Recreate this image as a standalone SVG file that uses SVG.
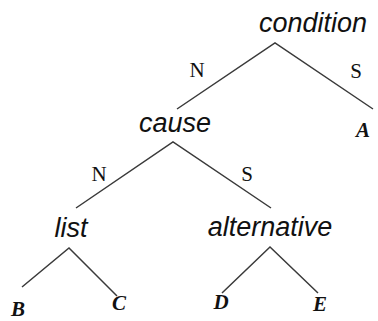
<svg xmlns="http://www.w3.org/2000/svg" width="378" height="321" viewBox="0 0 378 321">
<style>
.rel{font-family:"Liberation Sans",Arial,sans-serif;font-style:italic;font-size:27px;fill:#111;text-anchor:middle}
.lab{font-family:"Liberation Serif","Times New Roman",serif;font-size:21px;fill:#111;text-anchor:middle}
.leaf{font-family:"Liberation Serif","Times New Roman",serif;font-style:italic;font-weight:bold;font-size:21px;fill:#111;text-anchor:middle}
.e{stroke:#3a3a3a;stroke-width:1.5;fill:none}
</style>
<rect width="378" height="321" fill="#fff"/>
<g id="connectors">
<polyline class="e" points="177,109 275,43 373,109"/>
<polyline class="e" points="76,208 173,142 271,208"/>
<polyline class="e" points="22,287 69,248 117,296"/>
<polyline class="e" points="222,293 270,247 318,293"/>
<text class="lab" x="197" y="77">N</text>
<text class="lab" x="356" y="78">S</text>
<text class="lab" x="99" y="181">N</text>
<text class="lab" x="247" y="181">S</text>
</g>
<g id="condition"><text class="rel" x="313" y="32">condition</text></g>
<g id="cause"><text class="rel" x="175" y="132">cause</text></g>
<g id="A"><text class="leaf" x="363" y="137">A</text></g>
<g id="list"><text class="rel" x="71" y="237">list</text></g>
<g id="alternative"><text class="rel" x="270" y="236">alternative</text></g>
<g id="B"><text class="leaf" x="18" y="316">B</text></g>
<g id="C"><text class="leaf" x="119" y="310">C</text></g>
<g id="D"><text class="leaf" x="221" y="309">D</text></g>
<g id="E"><text class="leaf" x="320" y="311">E</text></g>
</svg>
